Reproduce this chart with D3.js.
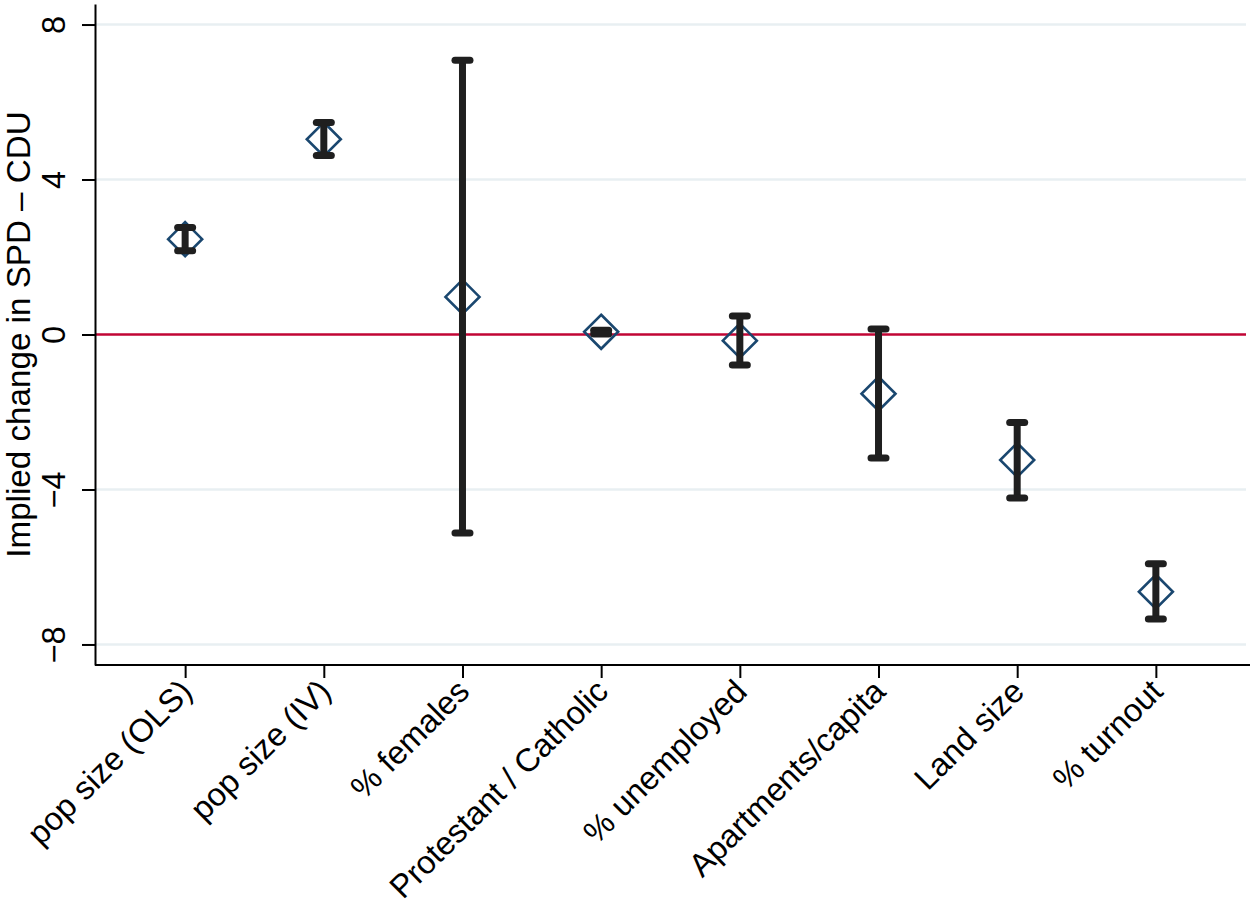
<!DOCTYPE html>
<html>
<head>
<meta charset="utf-8">
<script src="https://cdn.jsdelivr.net/npm/d3@7"></script>
<style>
  body { margin: 0; background: #fff; }
  svg { display: block; font-family: "Liberation Sans", Arial, Helvetica, sans-serif; }
</style>
</head>
<body>
<svg id="chart" width="1250" height="907"></svg>
<script>
// coefficient estimates with 95% CIs
const categories = ['pop size (OLS)', 'pop size (IV)', '% females', 'Protestant / Catholic',
  '% unemployed', 'Apartments/capita', 'Land size', '% turnout'];
const estimates = [2.46, 5.04, 0.97, 0.07, -0.16, -1.53, -3.24, -6.64];
const ciLower = [2.16, 4.62, -5.12, 0.01, -0.79, -3.19, -4.22, -7.34];
const ciUpper = [2.76, 5.47, 7.08, 0.11, 0.48, 0.14, -2.27, -5.92];
const yTicks = [-8, -4, 0, 4, 8];

const plotLeft = 95, plotRight = 1246, plotTop = 4, plotBottom = 665;
const fontSize = 32.5;

const svg = d3.select('#chart');

const x = d3.scalePoint()
  .domain(categories)
  .range([plotLeft, plotRight])
  .padding(0.65);

const y = d3.scaleLinear()
  .domain([-8.53, 8.53])
  .range([plotBottom, plotTop]);

const fmt = d => (d < 0 ? '\u2212' + Math.abs(d) : String(d));

// grid lines
svg.append('g')
  .selectAll('line')
  .data(yTicks.filter(d => d !== 0))
  .join('line')
  .attr('x1', plotLeft).attr('x2', plotRight)
  .attr('y1', d => y(d)).attr('y2', d => y(d))
  .attr('stroke', '#e8eff2')
  .attr('stroke-width', 2.5);

// zero reference line
svg.append('line')
  .attr('x1', plotLeft).attr('x2', plotRight)
  .attr('y1', y(0)).attr('y2', y(0))
  .attr('stroke', '#c10534')
  .attr('stroke-width', 2.5);

const rows = categories.map((c, i) => ({c, est: estimates[i], lo: ciLower[i], hi: ciUpper[i]}));

// point estimates (hollow diamonds)
const dr = 17;
svg.append('g')
  .selectAll('path')
  .data(rows)
  .join('path')
  .attr('d', d => {
    const cx = x(d.c), cy = y(d.est);
    return `M${cx},${cy - dr}L${cx + dr},${cy}L${cx},${cy + dr}L${cx - dr},${cy}Z`;
  })
  .attr('fill', 'none')
  .attr('stroke', '#1a476f')
  .attr('stroke-width', 2.6);

// confidence intervals with caps
const capHalf = 7.5;
const ci = svg.append('g')
  .attr('stroke', '#1f1f1f')
  .attr('stroke-width', 7)
  .attr('stroke-linecap', 'round');

ci.selectAll('line.bar')
  .data(rows)
  .join('line')
  .attr('class', 'bar')
  .attr('x1', d => x(d.c)).attr('x2', d => x(d.c))
  .attr('y1', d => y(d.lo)).attr('y2', d => y(d.hi))
  .attr('stroke-linecap', 'butt');

ci.selectAll('line.capHi')
  .data(rows)
  .join('line')
  .attr('class', 'capHi')
  .attr('x1', d => x(d.c) - capHalf).attr('x2', d => x(d.c) + capHalf)
  .attr('y1', d => y(d.hi)).attr('y2', d => y(d.hi));

ci.selectAll('line.capLo')
  .data(rows)
  .join('line')
  .attr('class', 'capLo')
  .attr('x1', d => x(d.c) - capHalf).attr('x2', d => x(d.c) + capHalf)
  .attr('y1', d => y(d.lo)).attr('y2', d => y(d.lo));

// y axis
const yAxis = svg.append('g')
  .attr('transform', `translate(${plotLeft},0)`)
  .call(d3.axisLeft(y).tickValues(yTicks).tickFormat(fmt).tickSize(13).tickSizeOuter(0));

yAxis.select('.domain').attr('stroke', '#000').attr('stroke-width', 2);
yAxis.selectAll('.tick line').attr('stroke', '#000').attr('stroke-width', 2);
yAxis.selectAll('.tick text')
  .attr('transform', 'rotate(-90)')
  .attr('x', 0)
  .attr('y', -30)
  .attr('dy', 0)
  .attr('text-anchor', 'middle')
  .attr('fill', '#000')
  .style('font-size', fontSize + 'px');

// x axis
const xAxis = svg.append('g')
  .attr('transform', `translate(0,${plotBottom})`)
  .call(d3.axisBottom(x).tickSize(13).tickSizeOuter(0));

xAxis.select('.domain')
  .attr('d', `M${plotLeft},0H1250`)
  .attr('stroke', '#000').attr('stroke-width', 2);
xAxis.selectAll('.tick line').attr('stroke', '#000').attr('stroke-width', 2);
xAxis.selectAll('.tick text')
  .attr('transform', 'translate(1,21) rotate(-45)')
  .attr('x', 0)
  .attr('y', 0)
  .attr('dy', '0.32em')
  .attr('text-anchor', 'end')
  .attr('fill', '#000')
  .style('font-size', fontSize + 'px');

// y axis title
svg.append('text')
  .attr('transform', `translate(30,${(plotTop + plotBottom) / 2}) rotate(-90)`)
  .attr('text-anchor', 'middle')
  .style('font-size', '33.2px')
  .text('Implied change in SPD \u2013 CDU');
</script>
</body>
</html>
